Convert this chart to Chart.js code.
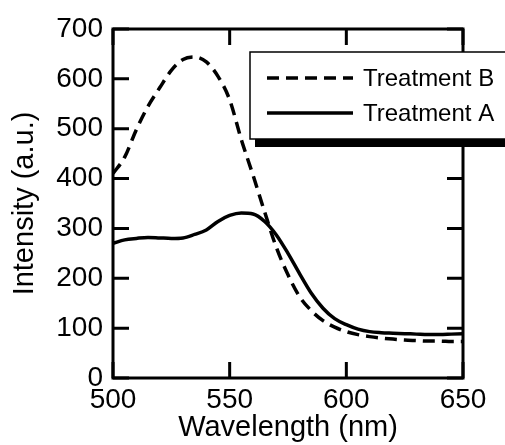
<!DOCTYPE html>
<html>
<head>
<meta charset="utf-8">
<script src="https://cdn.jsdelivr.net/npm/chart.js@4/dist/chart.umd.min.js"></script>
<style>
html,body{margin:0;padding:0;background:#fff;}
#wrap{width:505px;height:445px;position:relative;}
</style>
</head>
<body>
<div id="wrap"><canvas id="c" width="505" height="445"></canvas></div>
<script>
const wavelengths = [500,505,510,515,520,525,530,535,540,545,550,555,560,565,570,575,580,585,590,595,600,605,610,615,620,625,630,635,640,645,650];
const treatmentB = [410,443,498,545,582,617,639,644,634,605,558,478,407,333,262,207,163,135,115,102,93,87,83,80,78,76,75,74,74,73,73];
const treatmentA = [270,277,280,282,281,280,281,288,297,314,326,331,329,314,287,250,209,170,140,119,107,98,93,91,90,89,88,87,87,88,89];
const seriesLabels = ['Treatment B','Treatment A'];
const xTicks = [500,550,600,650];
const yTicks = [0,100,200,300,400,500,600,700];
const xTitle = 'Wavelength (nm)';
const yTitle = 'Intensity (a.u.)';

const FONT = '"Liberation Sans", Arial, sans-serif';

const framePlugin = {
  id: 'frame',
  afterDatasetsDraw(chart) {
    const ctx = chart.ctx;
    const a = chart.chartArea;
    const xs = chart.scales.x, ys = chart.scales.y;
    ctx.save();
    ctx.strokeStyle = '#000';
    ctx.lineWidth = 3;
    ctx.lineCap = 'butt';
    ctx.strokeRect(a.left, a.top, a.right - a.left, a.bottom - a.top);
    const tl = 16;
    ctx.beginPath();
    xTicks.forEach(v => {
      const px = xs.getPixelForValue(v);
      ctx.moveTo(px, a.bottom); ctx.lineTo(px, a.bottom - tl);
      ctx.moveTo(px, a.top); ctx.lineTo(px, a.top + tl);
    });
    yTicks.forEach(v => {
      const py = ys.getPixelForValue(v);
      ctx.moveTo(a.left, py); ctx.lineTo(a.left + tl, py);
      ctx.moveTo(a.right, py); ctx.lineTo(a.right - tl, py);
    });
    ctx.stroke();

    // legend box
    const bx = 250, by = 52, bw = 270, bh = 87;
    ctx.fillStyle = '#000';
    ctx.fillRect(bx + 5, by + bh, bw, 8);
    ctx.fillRect(bx + bw, by + 5, 8, bh);
    ctx.fillStyle = '#fff';
    ctx.fillRect(bx, by, bw, bh);
    ctx.lineWidth = 1.5;
    ctx.strokeRect(bx, by, bw, bh);

    const ds = chart.data.datasets;
    const rows = [78, 113];
    ds.forEach((d, i) => {
      ctx.beginPath();
      ctx.lineWidth = 3.5;
      ctx.setLineDash(d.borderDash || []);
      ctx.moveTo(267, rows[i]);
      ctx.lineTo(353, rows[i]);
      ctx.stroke();
      ctx.setLineDash([]);
      ctx.fillStyle = '#000';
      ctx.font = '24px ' + FONT;
      ctx.textBaseline = 'middle';
      ctx.textAlign = 'left';
      ctx.fillText(d.label, 363, rows[i] + 1);
    });
    ctx.restore();
  }
};

new Chart(document.getElementById('c'), {
  type: 'line',
  data: {
    datasets: [
      {
        label: seriesLabels[0],
        data: wavelengths.map((w, i) => ({x: w, y: treatmentB[i]})),
        borderColor: '#000',
        borderWidth: 3.5,
        borderDash: [12, 7],
        pointRadius: 0,
        fill: false,
        cubicInterpolationMode: 'monotone'
      },
      {
        label: seriesLabels[1],
        data: wavelengths.map((w, i) => ({x: w, y: treatmentA[i]})),
        borderColor: '#000',
        borderWidth: 3.5,
        pointRadius: 0,
        fill: false,
        cubicInterpolationMode: 'monotone'
      }
    ]
  },
  options: {
    responsive: false,
    animation: false,
    devicePixelRatio: 1,
    layout: { padding: { left: 0, right: 42, top: 29, bottom: 0 } },
    plugins: { legend: { display: false }, tooltip: { enabled: false } },
    scales: {
      x: {
        type: 'linear',
        min: 500, max: 650,
        afterBuildTicks: s => { s.ticks = xTicks.map(v => ({value: v})); },
        afterFit: s => { s.height = 67; },
        grid: { display: false, drawTicks: false },
        border: { display: false },
        ticks: { color: '#000', padding: 5, font: { family: FONT, size: 28 }, maxRotation: 0 },
        title: { display: true, text: xTitle, color: '#000', padding: { top: 0, bottom: 0 }, font: { family: FONT, size: 29 } }
      },
      y: {
        min: 0, max: 700,
        afterBuildTicks: s => { s.ticks = yTicks.map(v => ({value: v})); },
        afterFit: s => { s.width = 113; },
        grid: { display: false, drawTicks: false },
        border: { display: false },
        ticks: { color: '#000', padding: 10, font: { family: FONT, size: 28 } },
        title: { display: true, text: yTitle, color: '#000', padding: { top: 8, bottom: 0 }, font: { family: FONT, size: 29 } }
      }
    }
  },
  plugins: [framePlugin]
});
</script>
</body>
</html>
